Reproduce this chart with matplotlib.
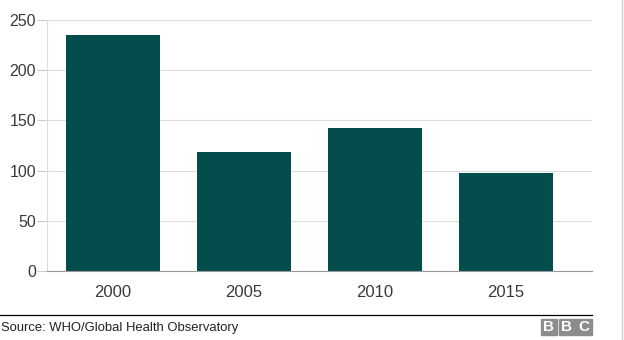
import numpy as np
import matplotlib.pyplot as plt
from matplotlib.patches import Rectangle

years = ['2000', '2005', '2010', '2015']
values = [235, 119, 142, 98]
yticks = [0, 50, 100, 150, 200, 250]

plt.rcParams['font.family'] = ['Liberation Sans', 'DejaVu Sans']

fig = plt.figure(figsize=(6.24, 3.4), dpi=100)
W, H = 624, 340
# plot area in pixels: x 47..592, y 20..271 (from top)
ax = fig.add_axes([47 / W, 1 - 271 / H, (592 - 47) / W, (271 - 20) / H])

x = np.arange(len(years))
ax.bar(x, values, width=0.72, color='#034d4c', zorder=3)

ax.set_xlim(-0.504, 3.656)
ax.set_ylim(0, 250)
ax.set_yticks(yticks)
ax.set_xticks(x)
ax.set_xticklabels(years)
ax.grid(axis='y', color='#dedede', linewidth=0.8, zorder=0)
ax.tick_params(axis='y', length=7, color='#cccccc', labelsize=11.5,
               labelcolor='#3a3a3a', pad=1)
ax.tick_params(axis='x', length=0, labelsize=12, labelcolor='#3a3a3a', pad=10)
for side in ['top', 'right']:
    ax.spines[side].set_visible(False)
ax.spines['left'].set_color('#dddddd')
ax.spines['left'].set_linewidth(0.8)
ax.spines['bottom'].set_color('#999999')
ax.spines['bottom'].set_linewidth(0.8)
ax.spines['bottom'].set_zorder(4)

# footer rule, source line and logo
fig.add_artist(plt.Line2D([0, 592 / W], [1 - 315 / H] * 2, color='black',
                          linewidth=0.9))
fig.text(1 / W, 1 - 327.5 / H, 'Source: WHO/Global Health Observatory',
         fontsize=9.4, color='#222222', va='center', ha='left')
for i, ch in enumerate('BBC'):
    x0 = 541 + i * 17.5
    fig.add_artist(Rectangle((x0 / W, 1 - 335 / H), 16 / W, 16 / H,
                             transform=fig.transFigure, color='#8c8c8c'))
    fig.text((x0 + 8) / W, 1 - 327 / H, ch, fontsize=11, fontweight='bold',
             color='white', ha='center', va='center')

# light frame on the right edge
fig.add_artist(plt.Line2D([622 / W] * 2, [0, 1], color='#d0d0d0', linewidth=1))

fig.savefig('out.png', dpi=100)
